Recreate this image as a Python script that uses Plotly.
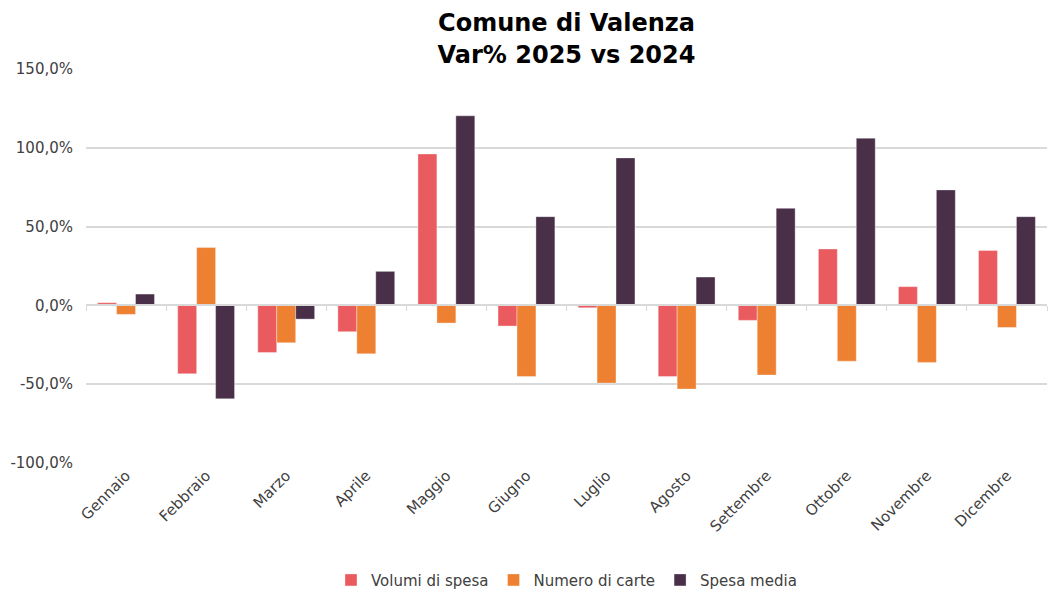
import plotly.graph_objects as go

mesi = ["Gennaio", "Febbraio", "Marzo", "Aprile", "Maggio", "Giugno",
        "Luglio", "Agosto", "Settembre", "Ottobre", "Novembre", "Dicembre"]

volumi_spesa = [1.7, -43.4, -29.9, -16.7, 96.1, -13.1, -1.5, -45.1, -9.5, 35.8, 11.9, 34.9]
numero_carte = [-5.7, 36.7, -23.7, -30.7, -11.2, -45.1, -49.3, -53.1, -44.2, -35.4, -36.2, -14.0]
spesa_media = [7.2, -59.3, -8.7, 21.6, 120.3, 56.3, 93.6, 18.0, 61.6, 106.1, 73.3, 56.3]

y_tick_vals = [-100, -50, 0, 50, 100, 150]
y_tick_text = ["-100,0%", "-50,0%", "0,0%", "50,0%", "100,0%", "150,0%"]

serie = [
    ("Volumi di spesa", volumi_spesa, "#EA5B60"),
    ("Numero di carte", numero_carte, "#EE8031"),
    ("Spesa media", spesa_media, "#4A2F49"),
]

FONT = "DejaVu Sans"
x_range = [-0.5, len(mesi) - 0.5]

fig = go.Figure()
for nome, valori, colore in serie:
    fig.add_trace(go.Bar(
        x=mesi, y=valori, name=nome,
        marker=dict(color=colore, line=dict(width=0.6, color="rgba(255,255,255,0.6)")),
    ))

# invisible trace so the secondary axis (zero line with category ticks) is drawn
fig.add_trace(go.Scatter(x=mesi, y=[0] * len(mesi), xaxis="x2", mode="markers",
                         marker=dict(opacity=0), showlegend=False, hoverinfo="skip"))

fig.update_layout(
    width=1051, height=592,
    paper_bgcolor="white", plot_bgcolor="white",
    separators=",.",
    font=dict(family=FONT, color="#404040", size=14),
    title=dict(text="<b>Comune di Valenza<br>Var% 2025 vs 2024</b>",
               x=0.5, xanchor="center", xref="paper", y=0.947, yanchor="top",
               yref="container",
               font=dict(family=FONT, size=24, color="black")),
    margin=dict(l=86, r=4, t=69, b=129, autoexpand=False),
    barmode="group", bargap=0.29, bargroupgap=0,
    legend=dict(orientation="h", x=0.5, xanchor="center", xref="paper",
                y=0.02, yanchor="middle", yref="container",
                font=dict(size=15, color="#404040"), traceorder="normal",
                itemwidth=30),
    xaxis=dict(type="category", range=x_range, tickangle=-45, showgrid=False,
               showline=False, ticks="", automargin=False,
               tickfont=dict(size=15, color="#404040")),
    xaxis2=dict(type="category", overlaying="x", anchor="free", position=0.4,
                range=x_range, side="bottom", showline=True, linecolor="#D9D9D9",
                linewidth=1.5, ticks="outside", ticklen=5, tickcolor="#D9D9D9",
                tickson="boundaries", showticklabels=False, showgrid=False,
                automargin=False),
    yaxis=dict(range=[-100, 150], tickvals=y_tick_vals, ticktext=y_tick_text,
               showgrid=True, gridcolor="#D9D9D9", gridwidth=1.5, zeroline=False,
               automargin=False, ticklabelstandoff=12,
               tickfont=dict(size=15, color="#404040"), ticks="", showline=False),
)

fig.write_html("out.html")
